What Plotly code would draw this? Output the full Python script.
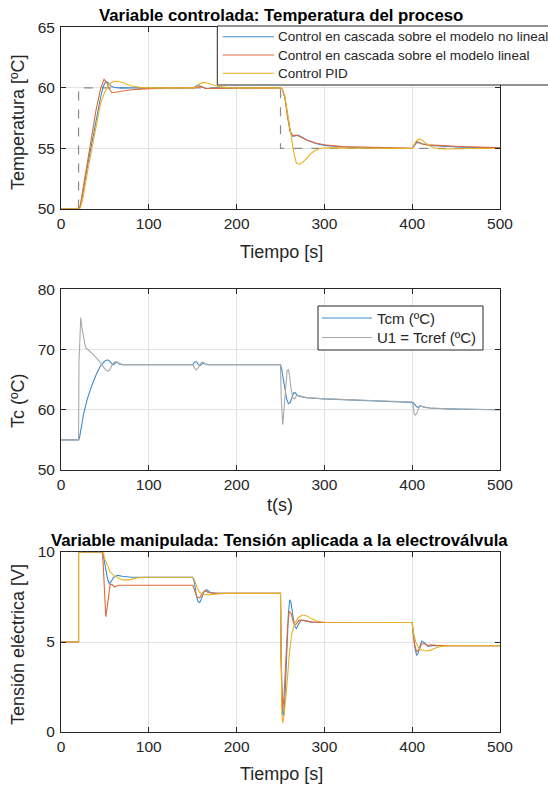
import plotly.graph_objects as go

# ---------------- data ----------------
# Panel 1: Temperatura del proceso
ref_pts = [(0, 50), (20, 50), (20, 60), (250, 60), (250, 55), (500, 55)]

temp_nolineal = [(0, 50), (20, 50), (22, 50.2), (25, 51.3), (30, 53.5), (35, 55.5), (40, 57.4), (45, 59.2),
                 (48, 60.1), (51, 60.55), (54, 60.4), (57, 60.15), (60, 60.05), (65, 60), (80, 60), (150, 60),
                 (153, 60.1), (156, 60.25), (160, 60.1), (165, 59.95), (170, 59.95), (180, 60), (250, 60),
                 (252, 59.9), (255, 59.2), (258, 57.6), (261, 56.4), (264, 56.0), (267, 56.05), (270, 56.1),
                 (274, 55.95), (280, 55.7), (290, 55.4), (300, 55.25), (320, 55.12), (350, 55.05), (400, 55),
                 (402, 55.2), (405, 55.5), (408, 55.45), (412, 55.35), (416, 55.3), (420, 55.25), (430, 55.2),
                 (450, 55.12), (480, 55.06), (500, 55.05)]

temp_lineal = [(0, 50), (20, 50), (22, 50.3), (25, 51.6), (30, 54), (35, 56.2), (40, 58.2), (45, 59.9),
               (49, 60.7), (52, 60.45), (55, 59.9), (58, 59.6), (62, 59.65), (70, 59.75), (80, 59.85),
               (90, 59.9), (100, 59.95), (120, 60), (150, 60), (155, 60.05), (160, 60.1), (165, 59.95),
               (170, 59.95), (180, 59.97), (200, 60), (250, 60), (252, 59.9), (255, 59.2), (258, 57.6),
               (261, 56.4), (264, 56.05), (267, 56.1), (270, 56.05), (274, 55.9), (280, 55.7), (290, 55.45),
               (300, 55.3), (320, 55.15), (350, 55.08), (400, 55.02), (402, 55.2), (405, 55.6), (408, 55.5),
               (412, 55.35), (416, 55.3), (420, 55.3), (430, 55.25), (450, 55.18), (480, 55.08), (500, 55.05)]

temp_pid = [(0, 50), (20, 50), (22, 50.1), (25, 50.9), (30, 53), (35, 55), (40, 57), (45, 58.7), (50, 59.7),
            (55, 60.3), (60, 60.55), (65, 60.55), (70, 60.45), (75, 60.3), (80, 60.15), (90, 60.05), (100, 60),
            (150, 60), (155, 60.1), (158, 60.35), (162, 60.45), (166, 60.4), (170, 60.3), (175, 60.2),
            (180, 60.1), (190, 60.02), (200, 60), (250, 60), (252, 59.9), (255, 59.3), (258, 58.0), (262, 56),
            (265, 54.7), (268, 53.8), (272, 53.7), (276, 53.9), (280, 54.2), (285, 54.6), (290, 54.85),
            (295, 55.0), (300, 55.05), (310, 55.05), (330, 55.0), (400, 55.0), (402, 55.3), (405, 55.65),
            (408, 55.78), (411, 55.7), (415, 55.45), (420, 55.2), (425, 55.05), (430, 54.98), (440, 54.95),
            (450, 54.98), (470, 55.0), (500, 55.0)]

# Panel 2: Tc
tcm = [(0, 55), (20, 55), (21, 55.3), (23, 57), (26, 59.5), (30, 61.8), (35, 64), (40, 65.8), (45, 67.3),
       (50, 68.1), (53, 68.3), (56, 68.0), (58, 67.6), (60, 67.5), (62, 67.8), (64, 67.9), (66, 67.6),
       (70, 67.5), (80, 67.5), (150, 67.5), (152, 67.9), (154, 68.0), (156, 67.6), (158, 67.3), (160, 67.5),
       (162, 67.8), (164, 67.6), (168, 67.5), (175, 67.5), (250, 67.5), (251, 67.0), (253, 65), (255, 63),
       (257, 61.8), (259, 61.0), (261, 61.2), (263, 62), (265, 62.8), (267, 62.8), (269, 62.4), (272, 62.2),
       (276, 62.1), (280, 62.0), (300, 61.8), (350, 61.5), (400, 61.3), (401, 61.2), (403, 60.9),
       (405, 60.5), (407, 60.4), (409, 60.7), (412, 60.5), (416, 60.4), (420, 60.3), (430, 60.2),
       (450, 60.1), (500, 60.0)]

u1 = [(0, 55), (20, 55), (20.5, 68), (21.5, 74), (22.5, 75.3), (24, 73.5), (26, 71.5), (28, 70.3), (32, 69.8),
      (38, 69), (44, 68), (48, 67.2), (51, 66.6), (54, 66.4), (57, 67), (60, 67.8), (63, 68), (66, 67.7),
      (70, 67.5), (80, 67.5), (150, 67.5), (152, 67.0), (154, 66.6), (156, 66.9), (158, 67.4), (160, 67.9),
      (162, 67.9), (164, 67.6), (166, 67.5), (170, 67.5), (250, 67.5), (250.8, 62), (251.5, 58.5),
      (252.5, 57.5), (254, 60), (256, 64), (257.5, 66.5), (259, 66.7), (260.5, 65.5), (262, 63.5),
      (264, 62), (266, 61.8), (268, 62.3), (270, 62.4), (274, 62.2), (280, 62.0), (300, 61.8), (350, 61.5),
      (400, 61.3), (401, 60.8), (402, 59.5), (403.5, 59.1), (405, 59.3), (407, 60.1), (409, 60.7),
      (411, 60.6), (414, 60.4), (420, 60.3), (430, 60.2), (450, 60.1), (500, 60.0)]

# Panel 3: Tension aplicada
volt_nolineal = [(0, 5), (20, 5), (20, 10), (47, 10), (49, 9.6), (51, 9.0), (53, 8.5), (55, 8.25), (57, 8.35),
                 (60, 8.6), (64, 8.7), (70, 8.65), (80, 8.6), (150, 8.6), (152, 8.3), (154, 7.6), (156, 7.25),
                 (158, 7.2), (160, 7.4), (163, 7.8), (166, 7.9), (170, 7.75), (178, 7.7), (250, 7.7),
                 (250.5, 5), (251.5, 2.5), (252.5, 1.0), (253.5, 0.9), (255, 1.8), (257, 4.2), (259, 6.6),
                 (260.5, 7.35), (262, 7.2), (264, 6.5), (266, 5.9), (268, 5.75), (270, 5.95), (273, 6.2),
                 (277, 6.2), (285, 6.1), (300, 6.08), (400, 6.08), (401, 5.6), (403, 4.7), (405, 4.25),
                 (407, 4.4), (409, 4.8), (411, 5.05), (414, 4.95), (418, 4.75), (422, 4.8), (430, 4.8),
                 (500, 4.8)]

volt_lineal = [(0, 5), (20, 5), (20, 10), (47, 10), (48, 9.4), (49.5, 7.8), (51, 6.4), (52.5, 6.9), (54, 7.6),
               (56, 8.2), (58, 8.2), (61, 8.05), (65, 8.15), (75, 8.15), (150, 8.15), (152, 7.9), (155, 7.5),
               (158, 7.45), (161, 7.7), (164, 7.85), (168, 7.75), (175, 7.7), (250, 7.7), (250.5, 4),
               (251.5, 1.8), (252.5, 1.2), (254, 2.0), (256, 4.0), (258, 5.8), (260, 6.7), (262, 6.6),
               (264, 6.2), (266, 5.95), (268, 6.0), (271, 6.2), (275, 6.2), (285, 6.12), (300, 6.08),
               (400, 6.08), (401, 5.5), (403, 4.8), (405, 4.45), (408, 4.6), (411, 4.9), (414, 4.9),
               (418, 4.8), (422, 4.85), (430, 4.8), (500, 4.8)]

volt_pid = [(0, 5), (20, 5), (20, 10), (48, 10), (50, 9.6), (53, 9.2), (56, 8.9), (60, 8.7), (65, 8.55),
            (70, 8.45), (78, 8.45), (85, 8.55), (95, 8.6), (150, 8.6), (152, 8.45), (155, 8.0), (158, 7.75),
            (162, 7.65), (168, 7.62), (175, 7.65), (185, 7.7), (250, 7.7), (250.5, 4), (251.5, 1.0),
            (252.5, 0.5), (254, 0.9), (257, 2.4), (260, 4.3), (263, 5.5), (266, 6.0), (270, 6.35), (275, 6.5),
            (280, 6.45), (285, 6.3), (292, 6.15), (300, 6.1), (400, 6.08), (401, 5.6), (404, 5.0), (407, 4.7),
            (411, 4.55), (416, 4.5), (421, 4.55), (428, 4.7), (435, 4.78), (445, 4.8), (500, 4.8)]

x_ticks = [0, 100, 200, 300, 400, 500]
y1_ticks = [50, 55, 60, 65]
y2_ticks = [50, 60, 70, 80]
y3_ticks = [0, 5, 10]

names1 = ["Control en cascada sobre el modelo no lineal",
          "Control en cascada sobre el modelo lineal",
          "Control PID"]
names2 = ["Tcm (ºC)", "U1 = Tcref (ºC)"]

# ---------------- styling ----------------
W, H = 548, 787
BLUE, ORANGE, YELLOW = "#3d8ccc", "#dd6a3a", "#edb120"
GRAY_REF, GRAY_U1 = "#8a8a8a", "#a8a8a8"
TXT = "#262626"
FONT = "Liberation Sans, Arial, sans-serif"


def xs(pts):
    return [p[0] for p in pts]


def ys(pts):
    return [p[1] for p in pts]


def px_x(p):
    return p / W


def px_y(p):
    return 1 - p / H


fig = go.Figure()

# Panel 1
fig.add_trace(go.Scatter(x=xs(ref_pts), y=ys(ref_pts), mode="lines", showlegend=False, name="Referencia",
                         line=dict(color=GRAY_REF, width=1.2, dash="dash"), xaxis="x", yaxis="y"))
for pts, col, nm in [(temp_nolineal, BLUE, names1[0]), (temp_lineal, ORANGE, names1[1]),
                     (temp_pid, YELLOW, names1[2])]:
    fig.add_trace(go.Scatter(x=xs(pts), y=ys(pts), mode="lines", name=nm, showlegend=False,
                             line=dict(color=col, width=1.1), xaxis="x", yaxis="y"))

# Panel 2
fig.add_trace(go.Scatter(x=xs(tcm), y=ys(tcm), mode="lines", name=names2[0], showlegend=False,
                         line=dict(color=BLUE, width=1.1), xaxis="x2", yaxis="y2"))
fig.add_trace(go.Scatter(x=xs(u1), y=ys(u1), mode="lines", name=names2[1], showlegend=False,
                         line=dict(color=GRAY_U1, width=1.1), xaxis="x2", yaxis="y2"))

# Panel 3
for pts, col, nm in [(volt_nolineal, BLUE, names1[0]), (volt_lineal, ORANGE, names1[1]),
                     (volt_pid, YELLOW, names1[2])]:
    fig.add_trace(go.Scatter(x=xs(pts), y=ys(pts), mode="lines", showlegend=False, name=nm,
                             line=dict(color=col, width=1.1), xaxis="x3", yaxis="y3"))

xdom = [px_x(61), px_x(500)]
panels = [((27.3, 209), y1_ticks, [50, 65]), ((289.3, 470), y2_ticks, [50, 80]),
          ((552, 732), y3_ticks, [0, 10])]

axis_common = dict(showline=True, linecolor=TXT, linewidth=1, mirror="ticks", ticks="inside",
                   ticklen=5, tickcolor=TXT, showgrid=True, gridcolor="#e3e3e3", gridwidth=1,
                   zeroline=False, tickfont=dict(family=FONT, size=15.5, color=TXT))

layout = dict(width=W, height=H, margin=dict(l=0, r=0, t=0, b=0, autoexpand=False),
              paper_bgcolor="white", plot_bgcolor="white", font=dict(family=FONT, color=TXT),
              showlegend=False)
for i, ((top, bot), yt, yr) in enumerate(panels):
    sfx = "" if i == 0 else str(i + 1)
    layout["xaxis" + sfx] = dict(domain=xdom, range=[0, 500], tickvals=x_ticks, anchor="y" + sfx,
                                 **axis_common)
    layout["yaxis" + sfx] = dict(domain=[px_y(bot), px_y(top)], range=yr, tickvals=yt,
                                 anchor="x" + sfx, ticklabelstandoff=2, **axis_common)

ann = []
shapes = []


def add_text(txt, x, y, size, bold=False, angle=0, xanchor="center"):
    ann.append(dict(text=f"<b>{txt}</b>" if bold else txt, x=px_x(x), y=px_y(y), xref="paper", yref="paper",
                    xanchor=xanchor, yanchor="middle", showarrow=False, textangle=angle,
                    font=dict(family=FONT, size=size, color="black" if bold else TXT)))


def legend_box(x0, y0, x1, y1, rows, line_x0, line_x1, text_x, size):
    shapes.append(dict(type="rect", xref="paper", yref="paper", x0=px_x(x0), x1=px_x(x1),
                       y0=px_y(y1), y1=px_y(y0), fillcolor="white", line=dict(color=TXT, width=1),
                       layer="above"))
    for (label, col, yy) in rows:
        shapes.append(dict(type="line", xref="paper", yref="paper", x0=px_x(line_x0), x1=px_x(line_x1),
                           y0=px_y(yy), y1=px_y(yy), line=dict(color=col, width=1.1), layer="above"))
        add_text(label, text_x, yy, size, xanchor="left")


legend_box(217.3, 26, 600, 85,
           [(names1[0], BLUE, 36.7), (names1[1], ORANGE, 55), (names1[2], YELLOW, 73.3)],
           222.7, 274, 276, 13.5)
legend_box(318, 306, 483, 350,
           [(names2[0], BLUE, 318), (names2[1], GRAY_U1, 337.5)],
           322, 372, 375, 15)

add_text("Variable controlada: Temperatura del proceso", 281, 15.5, 16.8, bold=True)
add_text("Tiempo [s]", 281, 252, 18)
add_text("Temperatura [ºC]", 18, 122, 18, angle=-90)
add_text("t(s)", 280, 505, 18)
add_text("Tc (ºC)", 18, 401, 18, angle=-90)
add_text("Variable manipulada: Tensión aplicada a la electroválvula", 279.6, 540, 16.8, bold=True)
add_text("Tiempo [s]", 281, 774, 18)
add_text("Tensión eléctrica [V]", 18, 645, 18, angle=-90)
layout["annotations"] = ann
layout["shapes"] = shapes

fig.update_layout(**layout)
fig.write_html("out.html")
